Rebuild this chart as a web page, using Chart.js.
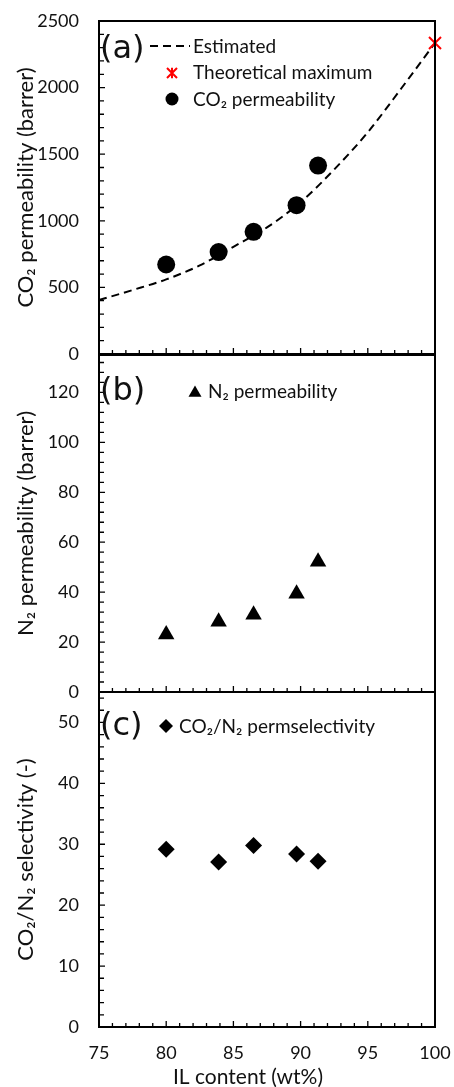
<!DOCTYPE html>
<html>
<head>
<meta charset="utf-8">
<script src="https://cdn.jsdelivr.net/npm/chart.js@4.4.1/dist/chart.umd.min.js"></script>
<style>
  html, body { margin: 0; padding: 0; background: #fff; }
  #wrap { position: relative; width: 454px; height: 1087px; overflow: hidden; background: #fff; }
  #wrap canvas { position: absolute; left: 0; }
</style>
</head>
<body>
<div id="wrap">
  <canvas id="panelA" width="454" height="366" style="top:0px"></canvas>
  <canvas id="panelB" width="454" height="366" style="top:340px"></canvas>
  <canvas id="panelC" width="454" height="409" style="top:678px"></canvas>
</div>
<script>
// Measured membranes: IL loading (wt%) and gas transport
const ilContent   = [80, 83.9, 86.5, 89.7, 91.3];
const co2Perm     = [672, 765, 917, 1117, 1415];
const n2Perm      = [23.0, 28.1, 30.9, 39.4, 52.2];
const selectivity = [29.2, 27.1, 29.8, 28.4, 27.2];

// Estimated CO2 permeability curve
const estIL  = [75, 77.5, 80, 82.5, 85, 87.5, 90, 92.5, 95, 97.5, 100];
const estCO2 = [405, 480, 560, 665, 805, 950, 1140, 1385, 1665, 1995, 2335];

// Theoretical maximum (neat IL)
const theoIL  = [100];
const theoCO2 = [2335];

// Axis ticks
const xTicks  = [75, 80, 85, 90, 95, 100];
const yTicksA = [0, 500, 1000, 1500, 2000, 2500];
const yTicksB = [0, 20, 40, 60, 80, 100, 120];
const yTicksC = [0, 10, 20, 30, 40, 50];

const FONT = 'Lato, "Open Sans", "DejaVu Sans", sans-serif';
const LETTER_FONT = '"DejaVu Sans", Lato, sans-serif';
const INK = '#000';
const TEXT = '#111';

const pts = (xs, ys) => xs.map((v, i) => ({ x: v, y: ys[i] }));

// asterisk marker: X with a vertical stroke
function makeAsterisk(half, color, lw) {
  const c = document.createElement('canvas');
  const s = Math.ceil(half * 2 + lw * 2);
  c.width = s; c.height = s;
  const g = c.getContext('2d');
  const m = s / 2;
  g.strokeStyle = color; g.lineWidth = lw; g.lineCap = 'butt';
  g.beginPath();
  g.moveTo(m - half, m - half); g.lineTo(m + half, m + half);
  g.moveTo(m + half, m - half); g.lineTo(m - half, m + half);
  g.moveTo(m, m - half * 1.05); g.lineTo(m, m + half * 1.05);
  g.stroke();
  return c;
}
const starData = makeAsterisk(6, '#ff0000', 2);
const starLegend = makeAsterisk(5, '#ff0000', 2);

// legend glyphs
function glyph(ctx, kind, x, y, size) {
  ctx.save();
  ctx.fillStyle = INK; ctx.strokeStyle = INK;
  ctx.beginPath();
  if (kind === 'circle') {
    ctx.arc(x, y, size, 0, Math.PI * 2); ctx.fill();
  } else if (kind === 'triangle') {
    ctx.moveTo(x, y - size);
    ctx.lineTo(x + size * 0.866, y + size * 0.5);
    ctx.lineTo(x - size * 0.866, y + size * 0.5);
    ctx.closePath(); ctx.fill();
  } else if (kind === 'diamond') {
    ctx.moveTo(x, y - size); ctx.lineTo(x + size, y);
    ctx.lineTo(x, y + size); ctx.lineTo(x - size, y);
    ctx.closePath(); ctx.fill();
  } else if (kind === 'dash') {
    ctx.lineWidth = 2; ctx.setLineDash([8, 5]);
    ctx.moveTo(x - size, y); ctx.lineTo(x + size, y); ctx.stroke();
  } else if (kind === 'star') {
    ctx.drawImage(starLegend, x - starLegend.width / 2, y - starLegend.height / 2);
  }
  ctx.restore();
}

// frame, inward minor/major tick marks, panel letter and legend
const panelDecor = {
  id: 'panelDecor',
  afterDatasetsDraw(chart, args, o) {
    const { ctx, chartArea: ca, scales: { x, y } } = chart;
    ctx.save();
    ctx.strokeStyle = INK;
    ctx.lineWidth = 1.3;
    ctx.beginPath();
    const isMajor = (v, step) => Math.abs(v / step - Math.round(v / step)) < 1e-6;
    for (let i = 0; x.min + i * o.xMinor <= x.max + 1e-9; i++) {
      const v = x.min + i * o.xMinor;
      const px = x.getPixelForValue(v);
      const len = isMajor(v, o.xMajor) ? 6 : 4;
      ctx.moveTo(px, ca.bottom); ctx.lineTo(px, ca.bottom - len);
    }
    for (let i = 0; y.min + i * o.yMinor <= y.max + 1e-9; i++) {
      const v = y.min + i * o.yMinor;
      const py = y.getPixelForValue(v);
      const len = isMajor(v, o.yMajor) ? 6 : 5;
      ctx.moveTo(ca.left, py); ctx.lineTo(ca.left + len, py);
    }
    ctx.stroke();

    ctx.lineWidth = 2;
    ctx.strokeRect(ca.left, ca.top, ca.right - ca.left, ca.bottom - ca.top);

    ctx.fillStyle = TEXT;
    ctx.textAlign = 'left';
    ctx.textBaseline = 'middle';
    ctx.font = '32px ' + LETTER_FONT;
    ctx.fillText(o.letter, ca.left + o.letterPos[0], ca.top + o.letterPos[1]);

    ctx.font = '19px ' + FONT;
    o.items.forEach(it => {
      glyph(ctx, it.kind, ca.left + it.g[0], ca.top + it.g[1], it.size);
      ctx.fillText(it.text, ca.left + it.t[0], ca.top + it.t[1]);
    });

    if (o.xTitle) {
      ctx.font = '21px ' + FONT;
      ctx.textAlign = 'center';
      ctx.fillText(o.xTitle, o.xTitleAt[0], o.xTitleAt[1]);
    }
    ctx.restore();
  }
};

function makePanel(id, cfg) {
  return new Chart(document.getElementById(id), {
    type: 'scatter',
    data: { datasets: cfg.datasets },
    options: {
      responsive: false,
      animation: false,
      events: [],
      layout: { autoPadding: false, padding: { left: 0, right: 19, top: cfg.padTop, bottom: 0 } },
      plugins: { legend: { display: false }, tooltip: { enabled: false }, panelDecor: cfg.decor },
      scales: {
        x: {
          type: 'linear', min: 75, max: 100,
          grid: { display: false, drawTicks: false },
          border: { display: false },
          afterBuildTicks: s => { s.ticks = xTicks.map(v => ({ value: v })); },
          afterFit: s => { s.height = cfg.xHeight; s.paddingLeft = 0; s.paddingRight = 0; },
          ticks: {
            display: cfg.showXLabels, padding: 15, color: TEXT,
            font: { family: FONT, size: 18 }, maxRotation: 0, autoSkip: false,
            callback: v => String(v)
          }
        },
        y: {
          type: 'linear', min: 0, max: cfg.yMax,
          grid: { display: false, drawTicks: false },
          border: { display: false },
          afterBuildTicks: s => { s.ticks = cfg.yTicks.map(v => ({ value: v })); },
          afterFit: s => { s.width = 99; s.paddingTop = 0; s.paddingBottom = 0; },
          ticks: {
            padding: 20, color: TEXT, font: { family: FONT, size: 18 },
            callback: v => String(v)
          },
          title: {
            display: true, text: cfg.yTitle, color: TEXT,
            font: { family: FONT, size: 22 }, padding: { top: 13, bottom: 0 }
          }
        }
      }
    },
    plugins: [panelDecor]
  });
}

// (a) CO2 permeability
makePanel('panelA', {
  padTop: 21, xHeight: 12, showXLabels: false, yMax: 2500, yTicks: yTicksA,
  yTitle: 'CO\u2082 permeability (barrer)',
  datasets: [
    { label: 'CO\u2082 permeability', data: pts(ilContent, co2Perm),
      pointStyle: 'circle', pointRadius: 9, backgroundColor: INK, borderColor: INK, borderWidth: 0 },
    { label: 'Theoretical maximum', data: pts(theoIL, theoCO2),
      pointStyle: starData, pointRadius: 6, clip: false },
    { label: 'Estimated', data: pts(estIL, estCO2), showLine: true, pointRadius: 0,
      borderColor: INK, borderWidth: 2, borderDash: [8, 5], cubicInterpolationMode: 'monotone', clip: false }
  ],
  decor: {
    xMinor: 1, xMajor: 5, yMinor: 100, yMajor: 500,
    letter: '(a)', letterPos: [1, 29],
    items: [
      { kind: 'dash', g: [71, 25], size: 20, text: 'Estimated', t: [94, 26] },
      { kind: 'star', g: [73, 52], size: 5, text: 'Theoretical maximum', t: [94, 52] },
      { kind: 'circle', g: [73, 78], size: 6.5, text: 'CO\u2082 permeability', t: [94, 79] }
    ]
  }
});

// (b) N2 permeability
makePanel('panelB', {
  padTop: 15, xHeight: 14, showXLabels: false, yMax: 135, yTicks: yTicksB,
  yTitle: 'N\u2082 permeability (barrer)',
  datasets: [
    { label: 'N\u2082 permeability', data: pts(ilContent, n2Perm),
      pointStyle: 'triangle', pointRadius: 9.5, backgroundColor: INK, borderColor: INK, borderWidth: 0 }
  ],
  decor: {
    xMinor: 1, xMajor: 5, yMinor: 4, yMajor: 20,
    letter: '(b)', letterPos: [1, 37],
    items: [
      { kind: 'triangle', g: [96, 38], size: 7.5, text: 'N\u2082 permeability', t: [109, 37] }
    ]
  }
});

// (c) CO2/N2 selectivity
makePanel('panelC', {
  padTop: 14, xHeight: 60, showXLabels: true, yMax: 55, yTicks: yTicksC,
  yTitle: 'CO\u2082/N\u2082 selectivity (-)',
  datasets: [
    { label: 'CO\u2082/N\u2082 permselectivity', data: pts(ilContent, selectivity),
      pointStyle: 'rectRot', pointRadius: 8.5, backgroundColor: INK, borderColor: INK, borderWidth: 0 }
  ],
  decor: {
    xMinor: 1, xMajor: 5, yMinor: 2, yMajor: 10,
    letter: '(c)', letterPos: [1, 35],
    items: [
      { kind: 'diamond', g: [67, 34], size: 7, text: 'CO\u2082/N\u2082 permselectivity', t: [80, 35] }
    ],
    xTitle: 'IL content (wt%)', xTitleAt: [248, 399]
  }
});
</script>
</body>
</html>
